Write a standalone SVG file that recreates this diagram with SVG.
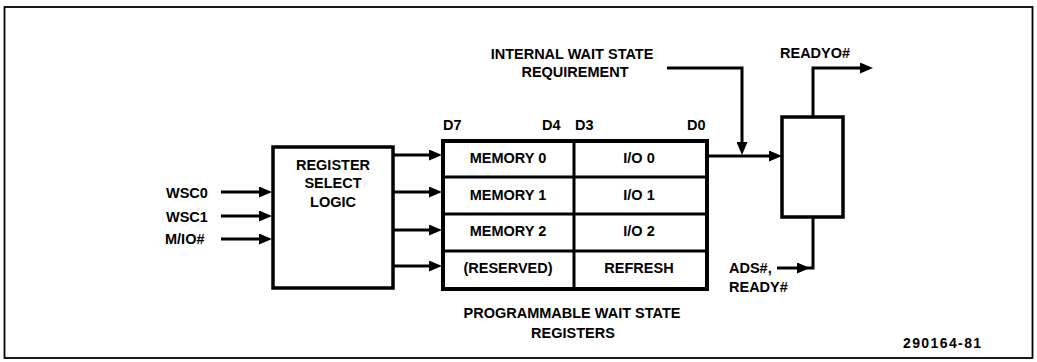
<svg xmlns="http://www.w3.org/2000/svg" width="1037" height="362" viewBox="0 0 1037 362">
<style>
text{font-family:"Liberation Sans",Arial,sans-serif;font-weight:bold;font-size:14.5px;fill:#000}
.c{text-anchor:middle}
.box{fill:#fff;stroke:#000;stroke-width:3.5}
.div{stroke:#000;stroke-width:3;fill:none}
.ln{stroke:#000;stroke-width:3;fill:none}
</style>
<defs>
<marker id="ah" markerWidth="13" markerHeight="11" refX="7" refY="5.5" orient="auto" markerUnits="userSpaceOnUse">
<path d="M0,0 L13,5.5 L0,11 z" fill="#000"/>
</marker>
</defs>
<rect width="1037" height="362" fill="#fff"/>
<rect x="4.5" y="7" width="1028" height="351" fill="none" stroke="#000" stroke-width="1.8"/>

<g id="connectors">
<line class="ln" x1="221" y1="192" x2="266" y2="192" marker-end="url(#ah)"/>
<line class="ln" x1="221" y1="216" x2="266" y2="216" marker-end="url(#ah)"/>
<line class="ln" x1="221" y1="239" x2="266" y2="239" marker-end="url(#ah)"/>
<line class="ln" x1="394" y1="155" x2="436" y2="155" marker-end="url(#ah)"/>
<line class="ln" x1="394" y1="192" x2="436" y2="192" marker-end="url(#ah)"/>
<line class="ln" x1="394" y1="230" x2="436" y2="230" marker-end="url(#ah)"/>
<line class="ln" x1="394" y1="266" x2="436" y2="266" marker-end="url(#ah)"/>
<line class="ln" x1="708" y1="156" x2="776" y2="156" marker-end="url(#ah)"/>
<path class="ln" d="M667,68 H742 V149" marker-end="url(#ah)"/>
<path class="ln" d="M813,117 V68 H867" marker-end="url(#ah)"/>
<path class="ln" d="M813,217 V268 H800"/>
<line class="ln" x1="777" y1="268" x2="804" y2="268" marker-end="url(#ah)"/>
</g>

<g id="inputs">
<text x="166" y="198">WSC0</text>
<text x="166" y="222">WSC1</text>
<text x="165" y="244">M/IO#</text>
</g>

<g id="register-select-logic">
<rect class="box" x="273" y="147" width="120" height="141"/>
<text class="c" x="333" y="170">REGISTER</text>
<text class="c" x="333" y="188">SELECT</text>
<text class="c" x="333" y="207">LOGIC</text>
</g>

<g id="wait-state-registers">
<text x="443" y="130">D7</text>
<text x="542" y="130">D4</text>
<text x="575" y="130">D3</text>
<text x="687" y="130">D0</text>
<rect x="443" y="141" width="264" height="148" fill="#fff" stroke="#000" stroke-width="4"/>
<line class="div" x1="574" y1="141" x2="574" y2="289"/>
<line class="div" x1="443" y1="177" x2="707" y2="177"/>
<line class="div" x1="443" y1="214" x2="707" y2="214"/>
<line class="div" x1="443" y1="251" x2="707" y2="251"/>
<text class="c" x="508" y="163">MEMORY 0</text>
<text class="c" x="508" y="200">MEMORY 1</text>
<text class="c" x="508" y="236">MEMORY 2</text>
<text class="c" x="508" y="273">(RESERVED)</text>
<text class="c" x="639" y="163">I/O 0</text>
<text class="c" x="639" y="200">I/O 1</text>
<text class="c" x="639" y="236">I/O 2</text>
<text class="c" x="639" y="273">REFRESH</text>
<text class="c" x="572" y="318">PROGRAMMABLE WAIT STATE</text>
<text class="c" x="573" y="338">REGISTERS</text>
</g>

<g id="internal-wait-label">
<text class="c" x="572" y="59">INTERNAL WAIT STATE</text>
<text class="c" x="575" y="77">REQUIREMENT</text>
</g>

<g id="ready-logic">
<rect class="box" x="782" y="117" width="61" height="100" stroke-width="3"/>
</g>

<g id="ready-labels">
<text x="780" y="58">READYO#</text>
<text x="729" y="273">ADS#,</text>
<text x="729" y="292">READY#</text>
</g>

<text x="903" y="348" font-size="14" letter-spacing="1.4" style="font-weight:bold;font-size:14px">290164-81</text>
</svg>
